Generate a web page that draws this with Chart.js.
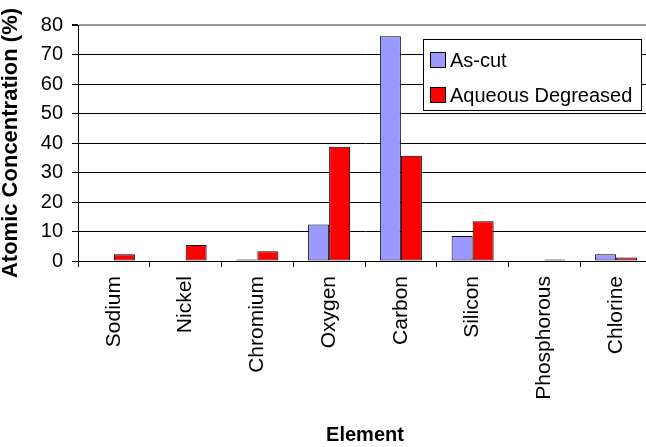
<!DOCTYPE html>
<html>
<head>
<meta charset="utf-8">
<script src="https://cdn.jsdelivr.net/npm/chart.js@4.4.1/dist/chart.umd.min.js"></script>
<style>
  html, body { margin: 0; padding: 0; background: #fff; overflow: hidden; }
  #wrap { position: relative; width: 656px; height: 447px; }
</style>
</head>
<body>
<div id="wrap"><canvas id="chart"></canvas></div>
<script>
// Surface composition by element, before and after degreasing
const elements = ['Sodium', 'Nickel', 'Chromium', 'Oxygen', 'Carbon', 'Silicon', 'Phosphorous', 'Chlorine'];
const asCut = [0, 0, 0.5, 12.4, 76.2, 8.5, 0, 2.3];
const aqueousDegreased = [2.3, 5.4, 3.3, 38.7, 35.7, 13.5, 0.5, 1.2];
const seriesNames = ['As-cut', 'Aqueous Degreased'];
const yTicks = [0, 10, 20, 30, 40, 50, 60, 70, 80];

const FONT = '"Liberation Sans", Arial, sans-serif';

// Boxed legend drawn inside the plot area, top right
const boxedLegend = {
  id: 'boxedLegend',
  afterDraw(chart) {
    const { ctx, chartArea } = chart;
    const w = 219, h = 72;
    const x = chartArea.right - 10 - w;
    const y = chartArea.top + 14;
    ctx.save();
    ctx.fillStyle = '#fff';
    ctx.fillRect(x, y, w, h);
    ctx.strokeStyle = '#000';
    ctx.lineWidth = 1;
    ctx.strokeRect(x + 0.5, y + 0.5, w - 1, h - 1);
    ctx.font = '20px ' + FONT;
    ctx.textBaseline = 'middle';
    chart.data.datasets.forEach((ds, i) => {
      const cy = y + 21 + i * 35;
      ctx.fillStyle = ds.backgroundColor;
      ctx.fillRect(x + 7, cy - 8, 16, 16);
      ctx.strokeStyle = '#000';
      ctx.strokeRect(x + 7.5, cy - 7.5, 15, 15);
      ctx.fillStyle = '#000';
      ctx.fillText(ds.label, x + 27, cy + 1);
    });
    ctx.restore();
  }
};

new Chart(document.getElementById('chart'), {
  type: 'bar',
  data: {
    labels: elements,
    datasets: [
      { label: seriesNames[0], data: asCut, backgroundColor: '#9999FF', borderColor: '#000', borderWidth: 1, borderSkipped: false },
      { label: seriesNames[1], data: aqueousDegreased, backgroundColor: '#FF0000', borderColor: '#000', borderWidth: 1, borderSkipped: false }
    ]
  },
  options: {
    responsive: true,
    maintainAspectRatio: false,
    animation: false,
    layout: { padding: { top: 25, right: 4, left: 0, bottom: 0 } },
    datasets: { bar: { categoryPercentage: 0.586, barPercentage: 1.0 } },
    plugins: {
      legend: { display: false },
      tooltip: { enabled: false }
    },
    scales: {
      x: {
        grid: { offset: true, drawOnChartArea: false, drawTicks: true, tickLength: 6, color: '#000' },
        border: { display: true, color: '#000', width: 1 },
        ticks: {
          color: '#000', font: { family: FONT, size: 21 },
          minRotation: 90, maxRotation: 90, padding: 9, autoSkip: false
        },
        title: {
          display: true, text: 'Element', color: '#000',
          font: { family: FONT, size: 20, weight: 'bold', lineHeight: 1.2 },
          padding: { top: 0, bottom: 0 }
        },
        afterFit(scale) { scale.height = 186; }
      },
      y: {
        min: 0, max: 80,
        afterBuildTicks(scale) { scale.ticks = yTicks.map(v => ({ value: v })); },
        grid: {
          color: ctx => (ctx.tick && ctx.tick.value === 80 ? '#999' : '#000'),
          lineWidth: ctx => (ctx.tick && ctx.tick.value === 80 ? 2 : 1),
          tickColor: '#000',
          tickLength: 6
        },
        border: { display: true, color: '#000', width: 1 },
        ticks: { color: '#000', font: { family: FONT, size: 20 }, padding: 9 },
        title: {
          display: true, text: 'Atomic Concentration (%)', color: '#000',
          font: { family: FONT, size: 22, weight: 'bold', lineHeight: 1 },
          padding: { top: 0, bottom: 0 }
        },
        afterFit(scale) { scale.width = 78; }
      }
    }
  },
  plugins: [boxedLegend]
});
</script>
</body>
</html>
